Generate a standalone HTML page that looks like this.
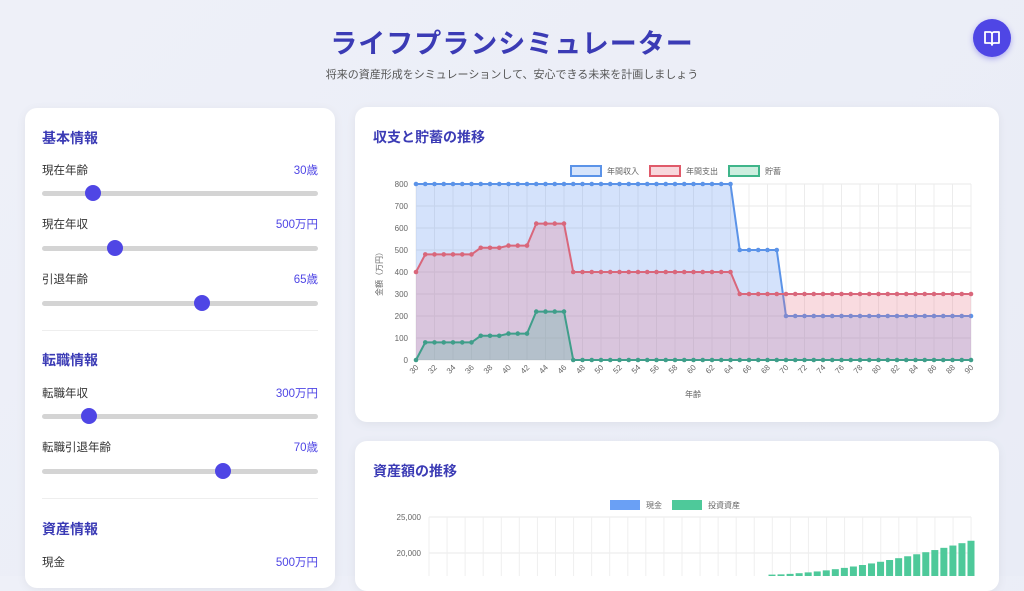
<!DOCTYPE html>
<html><head><meta charset="utf-8"><style>
*{margin:0;padding:0;box-sizing:border-box}
body{width:1024px;height:576px;overflow:hidden;background:linear-gradient(135deg,#eef0f8,#e9ecf6);font-family:"Liberation Sans","Noto Sans CJK JP",sans-serif;position:relative}
h1{position:absolute;top:22px;left:0;width:1024px;text-align:center;font-size:27px;color:#3b3bb5;font-weight:bold;letter-spacing:1px}
.sub{position:absolute;top:66px;width:1024px;text-align:center;font-size:11px;color:#555}
.btn{position:absolute;left:973px;top:19px;width:38px;height:38px;border-radius:50%;background:#4f46e5;box-shadow:0 2px 6px rgba(79,70,229,.4)}
.card{position:absolute;background:#fff;border-radius:12px;box-shadow:0 2px 10px rgba(0,0,0,.06)}
.h{font-size:14px;font-weight:bold;color:#3b3bb5;position:absolute}
.row{position:absolute;left:17px;width:276px;font-size:11.5px;color:#333}
.row span{float:right;color:#4f46e5}
.track{position:absolute;left:17px;width:276px;height:5px;border-radius:3px;background:#d4d4d4}
.knob{position:absolute;top:-6px;width:16px;height:16px;border-radius:50%;background:#4f46e5;margin-left:-8px}
.sep{position:absolute;left:17px;width:276px;height:1px;background:#eee}
svg text{font-family:"Liberation Sans","Noto Sans CJK JP",sans-serif}
</style></head><body>
<h1>ライフプランシミュレーター</h1>
<div class="sub">将来の資産形成をシミュレーションして、安心できる未来を計画しましょう</div>
<div class="btn"><svg width="38" height="38"><path d="M12 13 h5 a2 2 0 0 1 2 2 v11 a2 2 0 0 0 -2 -2 h-5z M26 13 h-5 a2 2 0 0 0 -2 2 v11 a2 2 0 0 1 2 -2 h5z" fill="none" stroke="#fff" stroke-width="1.8" stroke-linejoin="round"/></svg></div>

<div class="card" style="left:25px;top:108px;width:310px;height:480px">
<div class="h" style="left:17px;top:20px">基本情報</div>
<div class="row" style="top:54px">現在年齢<span>30歳</span></div>
<div class="track" style="top:83px"><div class="knob" style="left:51px"></div></div>
<div class="row" style="top:108px">現在年収<span>500万円</span></div>
<div class="track" style="top:138px"><div class="knob" style="left:73px"></div></div>
<div class="row" style="top:163px">引退年齢<span>65歳</span></div>
<div class="track" style="top:193px"><div class="knob" style="left:160px"></div></div>
<div class="sep" style="top:222px"></div>
<div class="h" style="left:17px;top:242px">転職情報</div>
<div class="row" style="top:277px">転職年収<span>300万円</span></div>
<div class="track" style="top:306px"><div class="knob" style="left:47px"></div></div>
<div class="row" style="top:331px">転職引退年齢<span>70歳</span></div>
<div class="track" style="top:361px"><div class="knob" style="left:181px"></div></div>
<div class="sep" style="top:390px"></div>
<div class="h" style="left:17px;top:411px">資産情報</div>
<div class="row" style="top:446px">現金<span>500万円</span></div>
</div>

<div class="card" style="left:355px;top:107px;width:644px;height:315px">
<div class="h" style="left:18px;top:20px">収支と貯蓄の推移</div>
</div>
<div class="card" style="left:355px;top:441px;width:644px;height:150px">
<div class="h" style="left:18px;top:20px">資産額の推移</div>
</div>

<svg id="s" width="1024" height="576" style="position:absolute;left:0;top:0"></svg>
<script>
var s='';
var X0=416,DX=555/60,Y0=360,K=0.22;
function X(i){return X0+i*DX}
function Y(v){return Y0-v*K}
for(var v=0;v<=800;v+=100){s+='<line x1="'+X0+'" x2="971" y1="'+Y(v)+'" y2="'+Y(v)+'" stroke="#e8e8e8"/><text x="408" y="'+(Y(v)+3)+'" font-size="8" fill="#666" text-anchor="end">'+v+'</text>';}
for(var i=0;i<=60;i+=2){s+='<line y1="184" y2="360" x1="'+X(i)+'" x2="'+X(i)+'" stroke="#ececec"/><text font-size="8" fill="#666" text-anchor="end" transform="translate('+(X(i)+3)+',368) rotate(-45)">'+(30+i)+'</text>';}
s+='<text x="693" y="397" font-size="8" fill="#666" text-anchor="middle">年齢</text>';
s+='<text font-size="8" fill="#666" text-anchor="middle" transform="translate(382,272) rotate(-90)">金額（万円）</text>';
var inc=[],exp=[],sav=[];
for(var i=0;i<=60;i++){
 inc.push(i<=34?800:i<=39?500:200);
 exp.push(i==0?400:i<=6?480:i<=9?510:i<=12?520:i<=16?620:i<=34?400:300);
 sav.push(i==0?0:i<=6?80:i<=9?110:i<=12?120:i<=16?220:0);
}
function series(d,stroke,fill){
 var p=d.map(function(v,i){return X(i)+','+Y(v)}).join(' ');
 var r='<polygon points="'+X0+','+Y0+' '+p+' 971,'+Y0+'" fill="'+fill+'"/>';
 r+='<polyline points="'+p+'" fill="none" stroke="'+stroke+'" stroke-width="2"/>';
 d.forEach(function(v,i){r+='<circle cx="'+X(i)+'" cy="'+Y(v)+'" r="2.3" fill="'+stroke+'"/>'});
 return r;
}
s+=series(inc,'#5b93e8','rgba(100,150,240,0.28)');
s+=series(exp,'#d9677b','rgba(230,110,130,0.25)');
s+=series(sav,'#3f9e8a','rgba(70,180,150,0.25)');
function leg(x,y,c,f,t){return '<rect x="'+x+'" y="'+y+'" width="30" height="10" fill="'+f+'" stroke="'+c+'" stroke-width="2"/><text x="'+(x+36)+'" y="'+(y+8)+'" font-size="8" fill="#666">'+t+'</text>';}
s+=leg(571,166,'#5b93e8','#d6e4fb','年間収入')+leg(650,166,'#e05a6a','#f8d7dc','年間支出')+leg(729,166,'#3fb58a','#cdeedf','貯蓄');
var B0=553,BK=7.2/1000;
function BY(v){return B0-(v-20000)*BK}
[25000,20000,15000].forEach(function(v){s+='<line x1="429" x2="971" y1="'+BY(v)+'" y2="'+BY(v)+'" stroke="#e8e8e8"/><text x="421" y="'+(BY(v)+3)+'" font-size="8" fill="#666" text-anchor="end">'+v.toLocaleString('en-US')+'</text>'});
for(var i=0;i<=30;i++){var x=429+i*18.07;s+='<line y1="517" y2="576" x1="'+x+'" x2="'+x+'" stroke="#efefef"/>';}
for(var i=0;i<23;i++){var x=772+i*((971-772)/22);var v=17000+ (21700-17000)*Math.pow(i/22,1.6);s+='<rect x="'+(x-3.5)+'" y="'+BY(v)+'" width="7" height="'+(576-BY(v))+'" fill="#4ec99a"/>';}
s+='<rect x="610" y="500" width="30" height="10" fill="#6aa0f5"/><text x="646" y="508" font-size="8" fill="#666">現金</text>';
s+='<rect x="672" y="500" width="30" height="10" fill="#4ec99a"/><text x="708" y="508" font-size="8" fill="#666">投資資産</text>';
document.getElementById('s').innerHTML=s;
</script>
</body></html>
